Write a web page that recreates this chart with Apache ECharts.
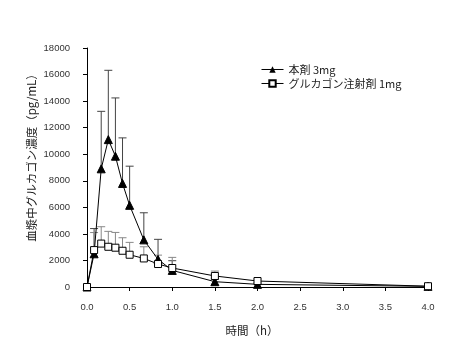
<!DOCTYPE html>
<html>
<head>
<meta charset="utf-8">
<script src="https://cdn.jsdelivr.net/npm/echarts@6/dist/echarts.min.js"></script>
<style>
  html, body { margin: 0; padding: 0; background: #fff; }
  #chart { width: 449px; height: 354px; }
</style>
</head>
<body>
<div id="chart"></div>
<script>
// 時間 (h)
const times = [0, 0.0833, 0.1667, 0.25, 0.3333, 0.4167, 0.5, 0.6667, 0.8333, 1.0, 1.5, 2.0, 4.0]

// 本剤 3mg
const nasalMean = [0, 2500, 8900, 11100, 9850, 7800, 6150, 3550, 2080, 1250, 400, 200, 50]
const nasalSD = [0, 1900, 4330, 5220, 4390, 3430, 2950, 2040, 1510, 730, 200, 100, 40]

// グルカゴン注射剤 1mg
const injMean = [0, 2780, 3270, 3030, 2960, 2730, 2430, 2150, 1730, 1430, 830, 450, 60]
const injSD = [0, 1320, 1270, 1160, 1150, 980, 930, 880, 670, 800, 370, 150, 50]

const seriesNames = ['本剤 3mg', 'グルカゴン注射剤 1mg']
const yTitle = '血漿中グルカゴン濃度（pg/mL）'
const xTitle = '時間（h）'

const cjkFont = '"Noto Sans CJK JP", sans-serif'
const numFont = '"Liberation Sans", Arial, sans-serif'

const chart = echarts.init(document.getElementById('chart'), null, { renderer: 'canvas' })

// 上側エラーバー (mean + SD)
function errorBar(mean, sd, color, z) {
  return {
    type: 'custom',
    silent: true,
    z: z,
    data: times.map((t, i) => [t, mean[i], mean[i] + sd[i]]),
    renderItem: (params, api) => {
      const p0 = api.coord([api.value(0), api.value(1)])
      const p1 = api.coord([api.value(0), api.value(2)])
      const hw = 4
      const style = { stroke: color, lineWidth: 1 }
      return {
        type: 'group',
        children: [
          { type: 'line', shape: { x1: p0[0], y1: p0[1], x2: p1[0], y2: p1[1] }, style },
          { type: 'line', shape: { x1: p1[0] - hw, y1: p1[1], x2: p1[0] + hw, y2: p1[1] }, style },
        ],
      }
    },
  }
}

chart.setOption({
  animation: false,
  backgroundColor: '#fff',
  grid: { left: 87, right: 21, top: 48, bottom: 67 },
  legend: {
    orient: 'vertical',
    left: 256,
    top: 59,
    itemWidth: 22,
    itemHeight: 8,
    itemGap: 3,
    data: seriesNames,
    lineStyle: { width: 1 },
    textStyle: { fontFamily: cjkFont, fontSize: 11, color: '#222' },
  },
  xAxis: {
    type: 'value',
    min: 0,
    max: 4,
    interval: 0.5,
    offset: 8,
    axisLine: { lineStyle: { color: '#000', width: 1 } },
    axisTick: { show: true, length: 4, lineStyle: { color: '#000' } },
    axisLabel: {
      margin: 7,
      fontFamily: numFont,
      fontSize: 9.5,
      color: '#333',
      formatter: v => v.toFixed(1),
    },
    splitLine: { show: false },
  },
  yAxis: {
    type: 'value',
    min: 0,
    max: 18000,
    interval: 2000,
    offset: 11,
    axisLine: { show: true, lineStyle: { color: '#000', width: 1 } },
    axisTick: { show: true, length: 4, lineStyle: { color: '#000' } },
    axisLabel: {
      margin: 6,
      fontFamily: numFont,
      fontSize: 9.5,
      color: '#333',
      formatter: v => String(v),
    },
    splitLine: { show: false },
  },
  graphic: [
    {
      type: 'text',
      x: 32,
      y: 155,
      rotation: Math.PI / 2,
      style: {
        text: yTitle,
        fontFamily: cjkFont,
        fontSize: 11.5,
        fill: '#222',
        align: 'center',
        verticalAlign: 'middle',
      },
    },
    {
      type: 'text',
      x: 252,
      y: 331,
      style: {
        text: xTitle,
        fontFamily: cjkFont,
        fontSize: 11.5,
        fill: '#222',
        align: 'center',
        verticalAlign: 'middle',
      },
    },
  ],
  series: [
    errorBar(nasalMean, nasalSD, '#444', 1),
    errorBar(injMean, injSD, '#888', 1),
    {
      name: seriesNames[0],
      type: 'line',
      data: times.map((t, i) => [t, nasalMean[i]]),
      symbol: 'triangle',
      symbolSize: 8,
      itemStyle: { color: '#000', borderColor: '#000' },
      lineStyle: { color: '#000', width: 1 },
      z: 3,
    },
    {
      name: seriesNames[1],
      type: 'line',
      data: times.map((t, i) => [t, injMean[i]]),
      symbol: 'rect',
      symbolSize: 7,
      showAllSymbol: true,
      itemStyle: { color: '#fff', borderColor: '#000', borderWidth: 1 },
      lineStyle: { color: '#000', width: 1 },
      z: 4,
    },
  ],
})
</script>
</body>
</html>
